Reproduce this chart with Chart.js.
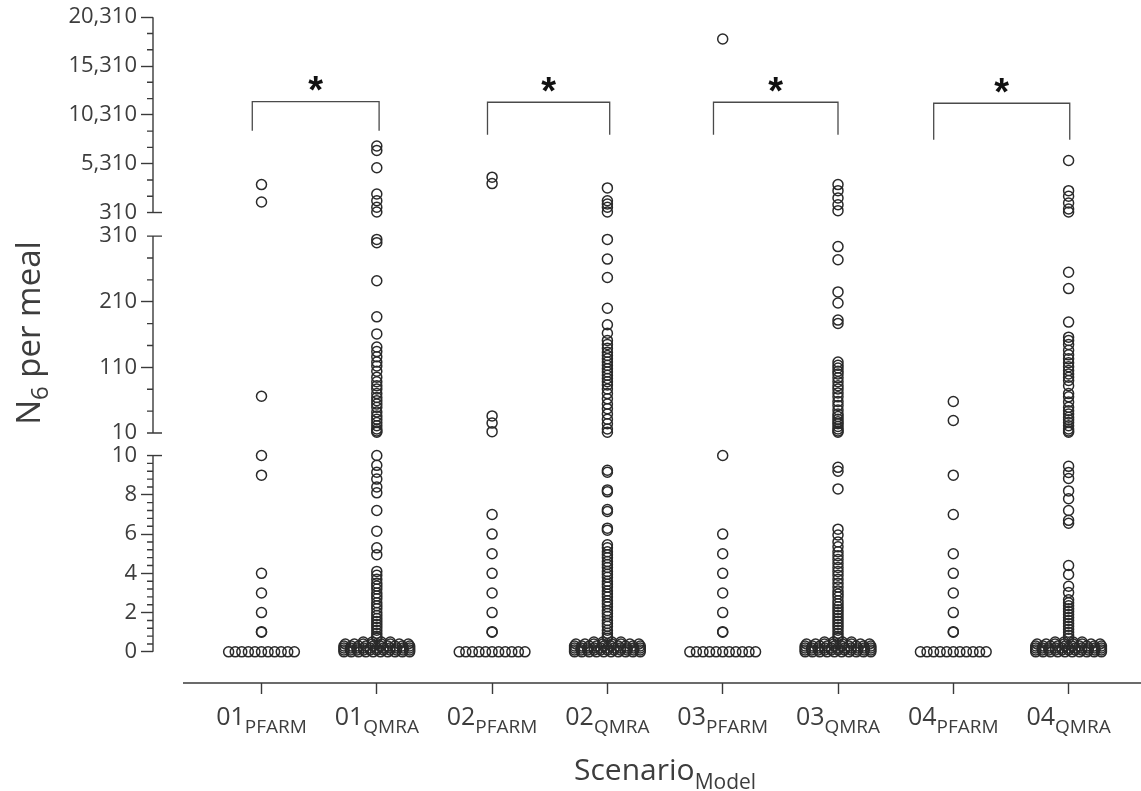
<!DOCTYPE html>
<html lang="en">
<head>
<meta charset="utf-8">
<title>N6 per meal by scenario and model</title>
<script src="https://cdn.jsdelivr.net/npm/chart.js@4.4.1/dist/chart.umd.min.js"></script>
<style>
  html, body { margin: 0; padding: 0; background: #ffffff; }
  canvas { display: block; }
</style>
</head>
<body>
<canvas id="chart" width="1141" height="791"></canvas>
<script>
// ---- Columns, left to right ----
const scenarios = ['01', '01', '02', '02', '03', '03', '04', '04'];
const models = ['PFARM', 'QMRA', 'PFARM', 'QMRA', 'PFARM', 'QMRA', 'PFARM', 'QMRA'];

// ---- N6 per meal, one array per column ----
const n6_01_PFARM = [3170, 1390, 66, 10, 9, 4, 3, 2, 1, 1.03,
  0, 0, 0, 0, 0, 0, 0, 0, 0, 0, 0];

const n6_01_QMRA = [7120, 6670, 4890, 2210, 1520, 850, 360,
  305, 300, 242, 187, 161, 141, 134, 126, 118, 112, 104, 95, 88, 82, 77, 70, 64, 59, 54, 49, 42, 36, 31, 26, 21, 16, 13, 11,
  10, 9.5, 9.15, 8.8, 8.4, 8.1, 7.2, 6.15, 5.3, 4.95, 4.1, 3.9, 3.7, 3.5, 3.35, 3.2, 3.0, 2.85, 2.7, 2.5, 2.35, 2.2, 2.0,
  1.85, 1.7, 1.55, 1.4, 1.25, 1.1, 0.95, 0.8, 0.7,
  0.5, 0.5, 0.5, 0.5,
  0.4, 0.4, 0.4, 0.4, 0.4, 0.4, 0.4, 0.4,
  0.3, 0.3, 0.3, 0.3, 0.3, 0.3, 0.3, 0.3, 0.3, 0.3,
  0.2, 0.2, 0.2, 0.2, 0.2, 0.2, 0.2, 0.2, 0.2, 0.2, 0.2,
  0.1, 0.1, 0.1, 0.1, 0.1, 0.1, 0.1, 0.1, 0.1, 0.1, 0.1,
  0, 0, 0, 0, 0, 0, 0, 0, 0, 0];

const n6_02_PFARM = [3930, 3270, 36, 25, 12, 7, 6, 5, 4, 3, 2, 1, 1.03,
  0, 0, 0, 0, 0, 0, 0, 0, 0, 0, 0];

const n6_02_QMRA = [2830, 1520, 1180, 850, 360,
  305, 275, 247, 200, 175, 162, 151, 145, 139, 133, 128, 123, 118, 113, 108, 103, 98, 93, 88, 83, 77, 70, 62, 54, 47, 39, 31, 24, 16, 11,
  9.25, 9.15, 8.25, 8.15, 7.25, 7.15, 6.3, 6.2, 5.45, 5.3, 5.1, 4.95, 4.8, 4.6, 4.45, 4.3, 4.1, 3.95, 3.8, 3.6, 3.45, 3.3, 3.1,
  2.95, 2.8, 2.6, 2.45, 2.3, 2.1, 1.95, 1.8, 1.6, 1.45, 1.3, 1.1, 0.95, 0.8, 0.7,
  0.5, 0.5, 0.5, 0.5,
  0.4, 0.4, 0.4, 0.4, 0.4, 0.4, 0.4, 0.4,
  0.3, 0.3, 0.3, 0.3, 0.3, 0.3, 0.3, 0.3, 0.3, 0.3,
  0.2, 0.2, 0.2, 0.2, 0.2, 0.2, 0.2, 0.2, 0.2, 0.2, 0.2,
  0.1, 0.1, 0.1, 0.1, 0.1, 0.1, 0.1, 0.1, 0.1, 0.1, 0.1,
  0, 0, 0, 0, 0, 0, 0, 0, 0, 0];

const n6_03_PFARM = [18080, 10, 6, 5, 4, 3, 2, 1, 1.03,
  0, 0, 0, 0, 0, 0, 0, 0, 0, 0, 0];

const n6_03_QMRA = [3170, 2550, 1800, 1110, 500,
  294, 274, 225, 208, 182, 177, 118, 113, 109, 104, 100, 94, 88, 82, 77, 71, 65, 58, 52, 45, 39, 35, 31, 27, 24, 20, 16, 13, 11,
  9.4, 9.2, 8.3, 6.25, 5.95, 5.6, 5.35, 5.1, 4.9, 4.7, 4.5, 4.3, 4.1, 3.9, 3.7, 3.5, 3.3, 3.1, 2.95, 2.8, 2.6, 2.45, 2.3,
  2.15, 2.0, 1.85, 1.7, 1.55, 1.4, 1.25, 1.1, 0.95, 0.8, 0.7,
  0.5, 0.5, 0.5, 0.5,
  0.4, 0.4, 0.4, 0.4, 0.4, 0.4, 0.4, 0.4,
  0.3, 0.3, 0.3, 0.3, 0.3, 0.3, 0.3, 0.3, 0.3, 0.3,
  0.2, 0.2, 0.2, 0.2, 0.2, 0.2, 0.2, 0.2, 0.2, 0.2, 0.2,
  0.1, 0.1, 0.1, 0.1, 0.1, 0.1, 0.1, 0.1, 0.1, 0.1, 0.1,
  0, 0, 0, 0, 0, 0, 0, 0, 0, 0];

const n6_04_PFARM = [58, 29, 9, 7, 5, 4, 3, 2, 1, 1.03,
  0, 0, 0, 0, 0, 0, 0, 0, 0, 0, 0];

const n6_04_QMRA = [5640, 2550, 1980, 1290, 670, 360,
  255, 230, 179, 156, 151, 145, 136, 129, 123, 117, 111, 105, 100, 95, 90, 82, 70, 65, 57, 49, 44, 39, 34, 30, 26, 21, 16, 13, 11,
  9.45, 9.14, 8.83, 8.2, 7.8, 7.2, 6.7, 6.55, 4.4, 3.94, 3.34, 3.02, 2.65, 2.5, 2.35, 2.2, 2.05, 1.9, 1.75, 1.6, 1.45, 1.3,
  1.15, 1.0, 0.85, 0.7,
  0.5, 0.5, 0.5, 0.5,
  0.4, 0.4, 0.4, 0.4, 0.4, 0.4, 0.4, 0.4,
  0.3, 0.3, 0.3, 0.3, 0.3, 0.3, 0.3, 0.3, 0.3, 0.3,
  0.2, 0.2, 0.2, 0.2, 0.2, 0.2, 0.2, 0.2, 0.2, 0.2, 0.2,
  0.1, 0.1, 0.1, 0.1, 0.1, 0.1, 0.1, 0.1, 0.1, 0.1, 0.1,
  0, 0, 0, 0, 0, 0, 0, 0, 0, 0];

const columns = [n6_01_PFARM, n6_01_QMRA, n6_02_PFARM, n6_02_QMRA,
                 n6_03_PFARM, n6_03_QMRA, n6_04_PFARM, n6_04_QMRA];

// ---- Tick labels of the three pieces of the broken value axis ----
const ticksLow = [0, 2, 4, 6, 8, 10];
const ticksMid = [10, 110, 210, 310];
const ticksHigh = [310, 5310, 10310, 15310, 20310];

// ---- Significance brackets (x in column units, y on the upper axis piece) ----
const bracketFrom = [-0.08, 1.96, 3.92, 5.83];
const bracketTo = [1.02, 3.02, 5.0, 7.01];
const bracketTop = [11670, 11600, 11600, 11500];
const bracketFoot = [8690, 8280, 8280, 7770];
const bracketMark = ['*', '*', '*', '*'];

// ---- Layout and style ----
const TEXT = '#3d3d3d';
const AXIS = '#3a3a3a';
const MARK = '#2a2a2a';
const FRAME = { left: 153, top: 20, bottom: 683, right: 1141 };
const X_FIRST = 261.5, X_STEP = 115.3, X_LINE_START = 183;

// Each piece of the value axis: value range, where its ends sit, and its band
const SEGMENTS = [
  { id: 'yLow',  lo: 0,   hi: 10,    pxLo: 652,   pxHi: 456.5, bandTop: 445, bandBottom: 683, ticks: ticksLow,  minorStep: 0.4 },
  { id: 'yMid',  lo: 10,  hi: 310,   pxLo: 434,   pxHi: 238,   bandTop: 226, bandBottom: 445, ticks: ticksMid,  minorStep: 100 / 3 },
  { id: 'yHigh', lo: 310, hi: 20310, pxLo: 214.5, pxHi: 20,    bandTop: 20,  bandBottom: 226, ticks: ticksHigh, minorStep: 5000 / 3 }
];

function segmentOf(v) { return v <= 10 ? 'yLow' : (v <= 310 ? 'yMid' : 'yHigh'); }

// Points sharing one value are spread sideways in a row
const ROW_STEP = 0.078;
const ROW_HALF = 0.285;
function columnPoints(values, centre) {
  const counts = new Map();
  values.forEach(v => counts.set(v, (counts.get(v) || 0) + 1));
  const used = new Map();
  return values.map(v => {
    const n = counts.get(v);
    const k = used.get(v) || 0;
    used.set(v, k + 1);
    if (n === 1) return { x: centre, y: v };
    const half = Math.min((n - 1) * ROW_STEP / 2, ROW_HALF);
    return { x: centre - half + 2 * half * k / (n - 1), y: v };
  });
}

const datasets = [];
columns.forEach((vals, i) => {
  const pts = columnPoints(vals, i);
  SEGMENTS.forEach(seg => {
    datasets.push({
      label: scenarios[i] + ' ' + models[i],
      data: pts.filter(p => segmentOf(p.y) === seg.id),
      xAxisID: 'x',
      yAxisID: seg.id,
      pointStyle: 'circle',
      pointRadius: 5,
      pointBorderWidth: 1.5,
      pointBorderColor: MARK,
      pointBackgroundColor: 'rgba(0,0,0,0)',
      showLine: false,
      clip: false
    });
  });
});

function isEnd(seg, v) {
  return (seg.id !== 'yLow' && v === seg.lo) || (seg.id !== 'yHigh' && v === seg.hi);
}

function segmentScale(seg) {
  const upp = (seg.hi - seg.lo) / (seg.pxLo - seg.pxHi);
  return {
    type: 'linear',
    position: 'left',
    stack: 'n6',
    stackWeight: seg.bandBottom - seg.bandTop,
    bounds: 'data',
    min: seg.lo - (seg.bandBottom - seg.pxLo) * upp,
    max: seg.hi + (seg.pxHi - seg.bandTop) * upp,
    afterBuildTicks: s => { s.ticks = seg.ticks.map(v => ({ value: v })); },
    ticks: {
      autoSkip: false,
      padding: 4,
      color: TEXT,
      font: { size: 22 },
      callback: v => Number(v).toLocaleString('en-US')
    },
    grid: {
      drawOnChartArea: false,
      drawTicks: true,
      tickLength: 12,
      tickWidth: 1.4,
      tickColor: c => (c.tick && isEnd(seg, c.tick.value)) ? 'rgba(0,0,0,0)' : AXIS
    },
    border: { display: false }
  };
}

const xMin = -(X_FIRST - FRAME.left) / X_STEP;
const xMax = xMin + (FRAME.right - FRAME.left) / X_STEP;

// Axis lines, breaks, minor ticks, labels with subscripts, brackets
const decorations = {
  id: 'decorations',
  afterDraw(chart) {
    const ctx = chart.ctx;
    const area = chart.chartArea;
    ctx.save();
    ctx.strokeStyle = AXIS;
    ctx.lineWidth = 1.4;
    ctx.lineCap = 'butt';

    SEGMENTS.forEach(seg => {
      const s = chart.scales[seg.id];
      const ax = s.right;
      const yLo = s.getPixelForValue(seg.lo), yHi = s.getPixelForValue(seg.hi);
      ctx.beginPath();
      ctx.moveTo(ax, yLo); ctx.lineTo(ax, yHi);
      ctx.stroke();
      // minor ticks
      ctx.beginPath();
      for (let k = 1; ; k++) {
        const v = seg.lo + k * seg.minorStep;
        if (v >= seg.hi - 1e-6) break;
        if (seg.ticks.some(t => Math.abs(t - v) < 1e-6)) continue;
        const y = s.getPixelForValue(v);
        ctx.moveTo(ax - 6, y); ctx.lineTo(ax, y);
      }
      ctx.stroke();
      // break caps across the axis line
      ctx.beginPath();
      if (seg.id !== 'yLow') { ctx.moveTo(ax - 6, yLo); ctx.lineTo(ax + 9, yLo); }
      if (seg.id !== 'yHigh') { ctx.moveTo(ax - 6, yHi); ctx.lineTo(ax + 9, yHi); }
      ctx.stroke();
    });

    // category axis line, detached from the value axis
    ctx.lineWidth = 1.6;
    ctx.beginPath();
    ctx.moveTo(X_LINE_START, area.bottom);
    ctx.lineTo(chart.width, area.bottom);
    ctx.stroke();

    const xs = chart.scales.x;
    ctx.fillStyle = TEXT;
    ctx.textBaseline = 'alphabetic';
    ctx.textAlign = 'left';

    // category labels: scenario with model as subscript
    scenarios.forEach((sc, i) => {
      ctx.font = "25px 'Open Sans'";
      const w1 = ctx.measureText(sc).width;
      ctx.font = "19px 'Open Sans'";
      const w2 = ctx.measureText(models[i]).width;
      const x0 = xs.getPixelForValue(i) - (w1 + w2) / 2;
      ctx.font = "25px 'Open Sans'";
      ctx.fillText(sc, x0, 725);
      ctx.font = "19px 'Open Sans'";
      ctx.fillText(models[i], x0 + w1, 733);
    });

    // x title
    {
      ctx.font = "30px 'Open Sans'";
      const w1 = ctx.measureText('Scenario').width;
      ctx.font = "21px 'Open Sans'";
      const w2 = ctx.measureText('Model').width;
      const cx = (xs.getPixelForValue(0) + xs.getPixelForValue(scenarios.length - 1)) / 2;
      const x0 = cx - (w1 + w2) / 2;
      ctx.font = "30px 'Open Sans'";
      ctx.fillText('Scenario', x0, 780);
      ctx.font = "21px 'Open Sans'";
      ctx.fillText('Model', x0 + w1, 789);
    }

    // y title, rotated
    {
      ctx.save();
      ctx.translate(40, 333);
      ctx.rotate(-Math.PI / 2);
      ctx.font = "33px 'Open Sans'";
      const wN = ctx.measureText('N').width;
      const wRest = ctx.measureText(' per meal').width;
      ctx.font = "24px 'Open Sans'";
      const w6 = ctx.measureText('6').width;
      const x0 = -(wN + w6 + wRest) / 2;
      ctx.font = "33px 'Open Sans'";
      ctx.fillText('N', x0, 0);
      ctx.font = "24px 'Open Sans'";
      ctx.fillText('6', x0 + wN, 8);
      ctx.font = "33px 'Open Sans'";
      ctx.fillText(' per meal', x0 + wN + w6, 0);
      ctx.restore();
    }

    // significance brackets
    const yh = chart.scales.yHigh;
    ctx.strokeStyle = '#4a4a4a';
    ctx.lineWidth = 1.3;
    bracketFrom.forEach((f, i) => {
      const xl = xs.getPixelForValue(f), xr = xs.getPixelForValue(bracketTo[i]);
      const yt = yh.getPixelForValue(bracketTop[i]), yb = yh.getPixelForValue(bracketFoot[i]);
      ctx.beginPath();
      ctx.moveTo(xl, yb); ctx.lineTo(xl, yt); ctx.lineTo(xr, yt); ctx.lineTo(xr, yb);
      ctx.stroke();
      ctx.font = "bold 38px 'Liberation Sans'";
      ctx.fillStyle = '#111';
      ctx.textAlign = 'center';
      const m = ctx.measureText(bracketMark[i]);
      const cy = yt - 18;
      const base = cy + (m.actualBoundingBoxAscent - m.actualBoundingBoxDescent) / 2;
      ctx.fillText(bracketMark[i], (xl + xr) / 2, base);
    });
    ctx.restore();
  }
};

Chart.defaults.font.family = "'Open Sans', sans-serif";
Chart.defaults.color = TEXT;

const config = {
  type: 'scatter',
  data: { datasets },
  options: {
    responsive: false,
    devicePixelRatio: 1,
    animation: false,
    events: [],
    layout: { padding: { left: 70, top: 8, right: 0, bottom: 96 } },
    plugins: { legend: { display: false }, tooltip: { enabled: false } },
    scales: {
      x: {
        type: 'linear',
        position: 'bottom',
        bounds: 'data',
        min: xMin,
        max: xMax,
        afterBuildTicks: s => { s.ticks = scenarios.map((_, i) => ({ value: i })); },
        ticks: { display: false },
        grid: { drawOnChartArea: false, drawTicks: true, tickLength: 11, tickWidth: 1.4, tickColor: AXIS },
        border: { display: false }
      },
      yLow: segmentScale(SEGMENTS[0]),
      yMid: segmentScale(SEGMENTS[1]),
      yHigh: segmentScale(SEGMENTS[2])
    }
  },
  plugins: [decorations]
};

const chart = new Chart(document.getElementById('chart'), config);

// settle the plot frame onto its intended edges
for (let pass = 0; pass < 3; pass++) {
  const a = chart.chartArea;
  const p = chart.options.layout.padding;
  const dl = FRAME.left - a.left, dt = FRAME.top - a.top;
  const db = a.bottom - FRAME.bottom;
  // keep the column spacing fixed whatever width the frame ends up with
  const span = a.right - a.left;
  chart.options.scales.x.min = -(X_FIRST - a.left) / X_STEP;
  chart.options.scales.x.max = chart.options.scales.x.min + span / X_STEP;
  chart.options.layout.padding = {
    left: p.left + dl, top: p.top + dt, right: p.right, bottom: p.bottom + db
  };
  chart.update('none');
}
</script>
</body>
</html>
